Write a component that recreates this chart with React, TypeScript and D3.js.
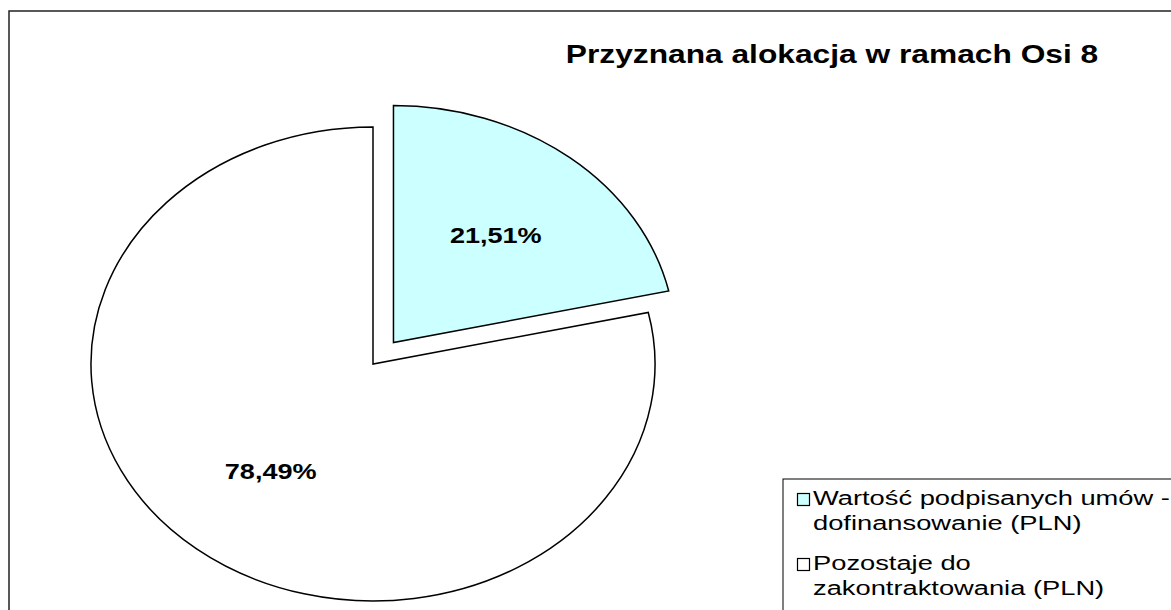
import { useEffect, useRef } from 'react'
import * as d3 from 'd3'

const categories = ['Wartość podpisanych umów - dofinansowanie (PLN)', 'Pozostaje do zakontraktowania (PLN)']
const legendLines = [
  ['Wartość podpisanych umów -', 'dofinansowanie (PLN)'],
  ['Pozostaje do', 'zakontraktowania (PLN)']
]
const shares = [21.51, 78.49]
const labels = ['21,51%', '78,49%']
const colors = ['#ccffff', '#ffffff']
const exploded = [true, false]
const title = 'Przyznana alokacja w ramach Osi 8'

export default function App() {
  const ref = useRef<SVGSVGElement>(null)

  useEffect(() => {
    const width = 1171
    const height = 610
    const svg = d3.select(ref.current)
    svg.selectAll('*').remove()

    // whole chart is stretched sideways, like the original
    const sx = 1.19
    const R = 237
    const cx = 373
    const cy = 364
    const explode = 0.116 * R
    const font = 'Liberation Sans, Arial, sans-serif'

    svg.append('rect')
      .attr('width', width)
      .attr('height', height)
      .attr('fill', '#fff')

    // outer frame
    svg.append('rect')
      .attr('x', 9)
      .attr('y', 11)
      .attr('width', width + 20)
      .attr('height', height + 20)
      .attr('fill', 'none')
      .attr('stroke', '#222')
      .attr('stroke-width', 1.5)

    const pie = d3.pie<number>().sort(null).value(d => d)
    const arcs = pie(shares)
    const arc = d3.arc<d3.PieArcDatum<number>>().innerRadius(0).outerRadius(R)
    const labelArc = d3.arc<d3.PieArcDatum<number>>().innerRadius(R * 0.58).outerRadius(R * 0.58)

    const g = svg.append('g').attr('transform', `translate(${cx},${cy})`)

    const slices = g.selectAll('g.slice')
      .data(arcs)
      .enter()
      .append('g')
      .attr('class', 'slice')
      .attr('transform', (d, i) => {
        const mid = (d.startAngle + d.endAngle) / 2
        const off = exploded[i] ? explode : 0
        return `translate(${Math.sin(mid) * off * sx},${-Math.cos(mid) * off})`
      })

    slices.append('path')
      .attr('d', d => arc(d))
      .attr('transform', `scale(${sx},1)`)
      .attr('fill', (d, i) => colors[i])
      .attr('stroke', '#000')
      .attr('stroke-width', 1.5)
      .attr('stroke-linejoin', 'miter')
      .attr('vector-effect', 'non-scaling-stroke')

    slices.append('text')
      .attr('transform', d => {
        const [x, y] = labelArc.centroid(d)
        return `translate(${x * sx},${y}) scale(1.23,1)`
      })
      .attr('text-anchor', 'middle')
      .attr('dy', '0.35em')
      .attr('font-family', font)
      .attr('font-weight', 'bold')
      .attr('font-size', 22)
      .text((d, i) => labels[i])

    // title
    svg.append('text')
      .attr('transform', `translate(832,63) scale(1.22,1)`)
      .attr('text-anchor', 'middle')
      .attr('font-family', font)
      .attr('font-weight', 'bold')
      .attr('font-size', 26)
      .text(title)

    // legend
    const legend = svg.append('g').attr('transform', 'translate(783,479)')
    legend.append('rect')
      .attr('width', 420)
      .attr('height', 160)
      .attr('fill', '#fff')
      .attr('stroke', '#000')
      .attr('stroke-width', 1)

    const item = legend.selectAll('g.item')
      .data(categories)
      .enter()
      .append('g')
      .attr('class', 'item')
      .attr('transform', (d, i) => `translate(0,${i * 65})`)

    item.append('rect')
      .attr('x', 14.5)
      .attr('y', 14.5)
      .attr('width', 12)
      .attr('height', 12)
      .attr('fill', (d, i) => colors[i])
      .attr('stroke', '#000')
      .attr('stroke-width', 1.2)

    item.each(function (d, i) {
      const t = d3.select(this).append('text')
        .attr('transform', 'translate(30,26) scale(1.3,1)')
        .attr('font-family', font)
        .attr('font-size', 21)
        .attr('fill', '#000')
      legendLines[i].forEach((line, j) => {
        t.append('tspan')
          .attr('x', 0)
          .attr('y', j * 25)
          .text(line)
      })
    })
  }, [])

  return (
    <svg
      ref={ref}
      width={1171}
      height={610}
      style={{ position: 'absolute', left: 0, top: 0, display: 'block' }}
    />
  )
}
